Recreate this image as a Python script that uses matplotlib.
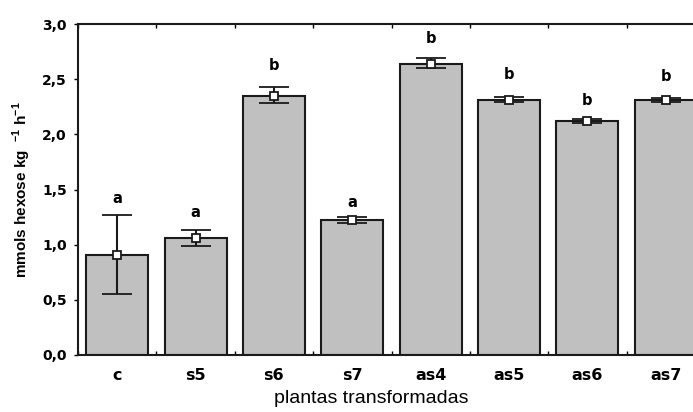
import matplotlib.pyplot as plt
from matplotlib.ticker import FuncFormatter

plt.rcParams['font.family'] = ['Liberation Sans', 'DejaVu Sans']
plt.rcParams['mathtext.fontset'] = 'custom'
plt.rcParams['mathtext.bf'] = 'Liberation Sans:bold'
plt.rcParams['mathtext.rm'] = 'Liberation Sans'

categories = ['c', 's5', 's6', 's7', 'as4', 'as5', 'as6', 'as7']
means = [0.91, 1.06, 2.35, 1.22, 2.64, 2.31, 2.12, 2.31]
err_hi = [1.27, 1.13, 2.43, 1.25, 2.69, 2.34, 2.14, 2.33]
err_lo = [0.55, 0.99, 2.28, 1.20, 2.60, 2.29, 2.10, 2.29]
letters = ['a', 'a', 'b', 'a', 'b', 'b', 'b', 'b']
letter_y = [1.42, 1.29, 2.62, 1.38, 2.87, 2.54, 2.31, 2.52]

x = list(range(len(categories)))
lower = [m - lo for m, lo in zip(means, err_lo)]
upper = [hi - m for m, hi in zip(means, err_hi)]

fig = plt.figure(figsize=(6.93, 4.12), dpi=100)
ax = fig.add_axes([78 / 693, 57 / 412, 627 / 693, 331 / 412])

ax.bar(x, means, width=0.79, color='#c0c0c0', edgecolor='#1a1a1a', linewidth=1.5, zorder=2)
ax.errorbar(x, means, yerr=[lower, upper], fmt='s', color='#1a1a1a', ecolor='#1a1a1a',
            elinewidth=1.5, capsize=11, capthick=1.5, markersize=6,
            markerfacecolor='white', markeredgecolor='#1a1a1a', markeredgewidth=1.3, zorder=3)

for xi, lt, ly in zip(x, letters, letter_y):
    ax.text(xi, ly, lt, ha='center', va='center', fontsize=10.5, fontweight='bold',
            family='DejaVu Sans')

ax.set_xlim(-0.5, 7.5)
ax.set_ylim(0, 3.0)
ax.set_yticks([0, 0.5, 1.0, 1.5, 2.0, 2.5, 3.0])
ax.yaxis.set_major_formatter(FuncFormatter(lambda v, p: f'{v:.1f}'.replace('.', ',')))
ax.set_xticks(x)
ax.set_xticklabels(categories)
ax.set_xticks([i + 0.5 for i in range(-1, len(categories))], minor=True)
ax.tick_params(axis='x', which='major', length=0, pad=9)
ax.tick_params(axis='x', which='minor', length=3, direction='in', top=True, width=1)
ax.tick_params(axis='y', which='major', length=3, direction='out', width=1, pad=5)
for lab in ax.get_xticklabels():
    lab.set_fontweight('bold')
    lab.set_family('DejaVu Sans')
    lab.set_fontsize(11.5)
for lab in ax.get_yticklabels():
    lab.set_fontweight('bold')
    lab.set_family('DejaVu Sans')
    lab.set_fontsize(10)

for s in ax.spines.values():
    s.set_linewidth(1.5)
    s.set_color('#1a1a1a')

ax.set_xlabel('plantas transformadas', fontsize=14)
ax.xaxis.set_label_coords(0.468, -0.105)
ax.set_ylabel('mmols hexose kg  $^{\\mathbf{-1}}$ h$^{\\mathbf{-1}}$', fontsize=11,
              fontweight='bold')
ax.yaxis.set_label_coords(-0.071, 0.5)

fig.savefig('out.png', dpi=100)
